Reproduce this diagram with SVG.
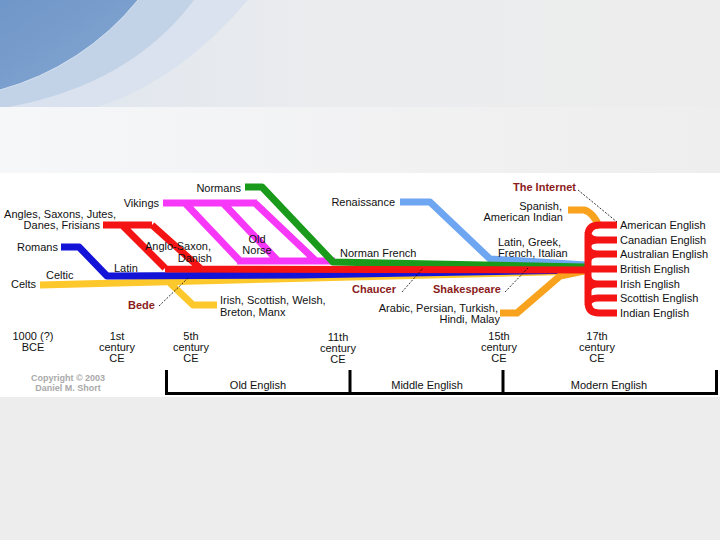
<svg xmlns="http://www.w3.org/2000/svg" width="720" height="540" viewBox="0 0 720 540">
<defs>
<linearGradient id="bg" x1="0" y1="0" x2="1" y2="0">
<stop offset="0" stop-color="#dde5ef"/><stop offset="0.45" stop-color="#ebecee"/><stop offset="1" stop-color="#ededed"/>
</linearGradient>
<linearGradient id="band" x1="0" y1="0" x2="1" y2="0">
<stop offset="0" stop-color="#f6f7f9"/><stop offset="0.6" stop-color="#f1f1f2"/><stop offset="1" stop-color="#eeeeee"/>
</linearGradient>
<linearGradient id="dark" x1="0" y1="0" x2="1" y2="1">
<stop offset="0" stop-color="#6f96c8"/><stop offset="1" stop-color="#86a8d3"/>
</linearGradient>
<style>
text{font-family:"Liberation Sans",Arial,sans-serif;font-size:11px;fill:#111}
.b{font-weight:bold;fill:#8b1c1c}
.c{font-weight:bold;fill:#a9a9a9;font-size:9px}
.m{text-anchor:middle}
.e{text-anchor:end}
.ln{fill:none;stroke-width:7;stroke-linejoin:round}
.dot{fill:none;stroke:#000;stroke-width:0.8;stroke-dasharray:2,1.5}
.tl{fill:none;stroke:#000;stroke-width:3}
</style>
</defs>
<g id="background">
<rect x="0" y="0" width="720" height="107" fill="url(#bg)"/>
<path d="M0,0 H248 Q180,80 98,107 H0 Z" fill="#d9e2ee"/>
<path d="M0,0 H194 Q130,85 8,107 H0 Z" fill="#c2d2e7"/>
<path d="M138,0 A269,269 0 0 1 0,90 V0 Z" fill="url(#dark)"/>
<path d="M138,0 A269,269 0 0 1 0,90" fill="none" stroke="#d5e1f0" stroke-width="1"/>
<rect x="0" y="107" width="720" height="66" fill="url(#band)"/>
<rect x="0" y="173" width="720" height="224" fill="#ffffff"/>
<rect x="0" y="397" width="720" height="143" fill="#ededed"/>
</g>
<g id="connectors">
<path class="ln" stroke="#fdc82c" d="M40,285 L584,271"/>
<path class="ln" stroke="#fdc82c" d="M170,283 L193,305 H217"/>
<path class="ln" stroke="#1414d8" d="M61,247 H79 L107,276 L300,275 L584,270"/>
<path class="ln" stroke="#f838f8" d="M163,203 H257 M185,203 L240,261 M223,203 L278,261 M255,203 L316,261 M237,261 H335"/>
<path class="ln" stroke="#6fa6f2" d="M400,202 H430 L490,259 L586,265"/>
<path class="ln" stroke="#1a9a1a" d="M245,187 H262 L333,262 L586,267"/>
<path class="ln" stroke="#f8a21e" d="M568,210 H584 Q593,212 600,228"/>
<path class="ln" stroke="#f8a21e" d="M500,313 H517 L560,276 L584,271"/>
<path class="ln" stroke="#f41414" d="M103,225 H152 M122,225 L165,268 M152,225 L200,268 M165,269 L590,270"/>
<path class="ln" stroke="#f41414" d="M617,225 H599 Q588,225 588,236 V302 Q588,313 599,313 H617 M588,269 H617 M588,232 Q588,240 598,240 H617 M588,247 Q588,254 598,254 H617 M588,261 Q588,254 598,254 M588,291 Q588,284 598,284 H617 M588,276 Q588,284 598,284 M588,305 Q588,298 598,298 H617 M588,246 Q588,240 598,240"/>
</g>
<g id="callouts">
<path class="dot" d="M578,190 L617,222"/>
<path class="dot" d="M402,292 L423,268"/>
<path class="dot" d="M505,292 L528,268"/>
<path class="dot" d="M159,306 L188,278"/>
</g>
<g id="labels">
<text class="e" x="241" y="192">Normans</text>
<text class="e" x="159" y="207">Vikings</text>
<text class="e" x="116" y="218">Angles, Saxons, Jutes,</text>
<text class="e" x="100" y="229">Danes, Frisians</text>
<text class="e" x="58" y="251">Romans</text>
<text x="46" y="279">Celtic</text>
<text x="11" y="288">Celts</text>
<text x="114" y="272">Latin</text>
<text class="e" x="211" y="250">Anglo-Saxon,</text>
<text class="e" x="212" y="262">Danish</text>
<text class="m" x="257" y="243">Old</text>
<text class="m" x="257" y="254">Norse</text>
<text x="340" y="257">Norman French</text>
<text class="e" x="395" y="206">Renaissance</text>
<text class="b" x="513" y="191">The Internet</text>
<text class="e" x="562" y="210">Spanish,</text>
<text class="e" x="563" y="221">American Indian</text>
<text x="498" y="246">Latin, Greek,</text>
<text x="498" y="257">French, Italian</text>
<text x="620" y="229">American English</text>
<text x="620" y="244">Canadian English</text>
<text x="620" y="258">Australian English</text>
<text x="620" y="273">British English</text>
<text x="620" y="288">Irish English</text>
<text x="620" y="302">Scottish English</text>
<text x="620" y="317">Indian English</text>
<text class="b" x="352" y="293">Chaucer</text>
<text class="b" x="433" y="293">Shakespeare</text>
<text class="b" x="128" y="309">Bede</text>
<text x="220" y="304">Irish, Scottish, Welsh,</text>
<text x="220" y="316">Breton, Manx</text>
<text class="e" x="498" y="312">Arabic, Persian, Turkish,</text>
<text class="e" x="500" y="323">Hindi, Malay</text>
</g>
<g id="timeline">
<text class="m" x="33" y="340">1000 (?)</text>
<text class="m" x="33" y="351">BCE</text>
<text class="m" x="117" y="340">1st</text>
<text class="m" x="117" y="351">century</text>
<text class="m" x="117" y="362">CE</text>
<text class="m" x="191" y="340">5th</text>
<text class="m" x="191" y="351">century</text>
<text class="m" x="191" y="362">CE</text>
<text class="m" x="338" y="341">11th</text>
<text class="m" x="338" y="352">century</text>
<text class="m" x="338" y="363">CE</text>
<text class="m" x="499" y="340">15th</text>
<text class="m" x="499" y="351">century</text>
<text class="m" x="499" y="362">CE</text>
<text class="m" x="597" y="340">17th</text>
<text class="m" x="597" y="351">century</text>
<text class="m" x="597" y="362">CE</text>
<text class="c m" x="68" y="381">Copyright © 2003</text>
<text class="c m" x="68" y="391">Daniel M. Short</text>
<path class="tl" d="M166.5,370 V393.5 H716.5 V370 M350,370 V393.5 M503,370 V393.5"/>
<text class="m" x="258" y="389">Old English</text>
<text class="m" x="427" y="389">Middle English</text>
<text class="m" x="609" y="389">Modern English</text>
</g>
</svg>
